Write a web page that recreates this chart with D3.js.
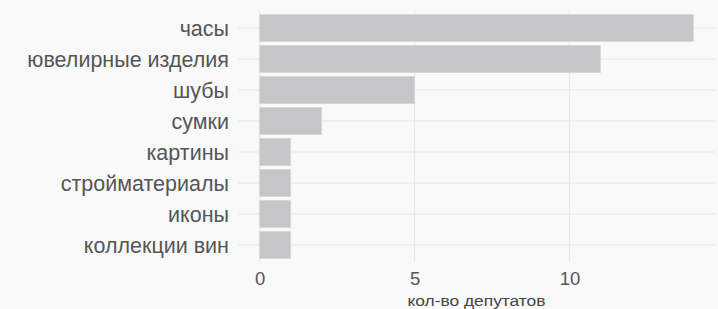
<!DOCTYPE html>
<html><head><meta charset="utf-8">
<script src="https://cdn.jsdelivr.net/npm/d3@7"></script>
<style>
html,body{margin:0;padding:0;background:#f9f9f9;}
svg{display:block;}
</style></head>
<body>
<svg id="c" width="718" height="309"></svg>
<script>
const categories = ["часы","ювелирные изделия","шубы","сумки","картины","стройматериалы","иконы","коллекции вин"];
const values = [14, 11, 5, 2, 1, 1, 1, 1];
const xTicks = [0, 5, 10];
const xTitle = "кол-во депутатов";

const FONT = "'Liberation Sans', Arial, Helvetica, sans-serif";
const svg = d3.select("#c");
const W = 718, H = 309;
svg.append("rect").attr("width", W).attr("height", H).attr("fill", "#f9f9f9");

const x = d3.scaleLinear().domain([-0.7, 14.7]).range([238, 715]);
const y = d3.scaleBand().domain(categories).range([12.5, 260.5]).paddingInner(0.13).paddingOuter(0.065);

const grid = svg.append("g");
grid.selectAll("line.h").data(categories).join("line")
  .attr("x1", 238).attr("x2", 715)
  .attr("y1", d => y(d) + y.bandwidth()/2).attr("y2", d => y(d) + y.bandwidth()/2)
  .attr("stroke", "#e8e8e8").attr("stroke-width", 1.2);
grid.selectAll("line.v").data(xTicks).join("line")
  .attr("x1", d => x(d)).attr("x2", d => x(d))
  .attr("y1", 10).attr("y2", 262)
  .attr("stroke", "#e8e8e8").attr("stroke-width", 1.2);

svg.append("g").selectAll("rect").data(categories).join("rect")
  .attr("x", x(0))
  .attr("y", d => y(d))
  .attr("width", (d,i) => x(values[i]) - x(0))
  .attr("height", y.bandwidth())
  .attr("fill", "#c5c6c8")
  .attr("stroke", "#d6d6d6").attr("stroke-width", 0.8);

const yAxis = d3.axisLeft(y).tickSize(0).tickPadding(0);
const ga = svg.append("g").attr("transform", "translate(229,1)").call(yAxis);
ga.select(".domain").remove();
ga.selectAll("text").attr("font-family", FONT)
  .attr("font-size", 21.5).attr("fill", "#555");

const xAxis = d3.axisBottom(x).tickValues(xTicks).tickSize(0).tickPadding(0);
const gx = svg.append("g").attr("transform", "translate(0,271.5)").call(xAxis);
gx.select(".domain").remove();
gx.selectAll("text").attr("font-family", FONT)
  .attr("font-size", 18.5).attr("fill", "#555");

svg.append("text").attr("x", (238+715)/2).attr("y", 305.5)
  .attr("text-anchor", "middle")
  .attr("font-family", FONT)
  .attr("font-size", 14).attr("fill", "#444")
  .attr("textLength", 138).attr("lengthAdjust", "spacingAndGlyphs")
  .text(xTitle);
</script>
</body></html>
